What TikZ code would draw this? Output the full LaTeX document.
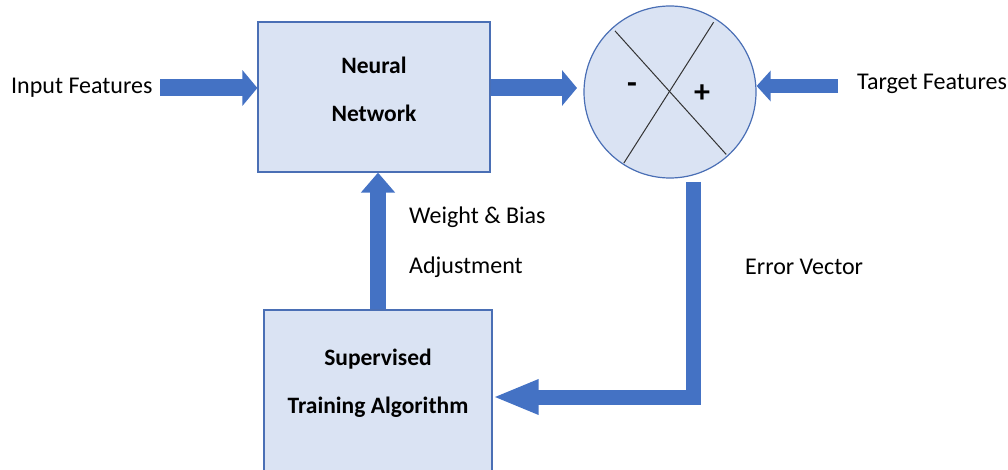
\documentclass[tikz,border=0pt]{standalone}
\usepackage{fontspec}
\setmainfont{Carlito}
\usetikzlibrary{arrows.meta,calc}
\definecolor{arrowblue}{HTML}{4472C4}
\definecolor{boxfill}{HTML}{DAE3F3}
\definecolor{boxline}{HTML}{4A6FB5}
\begin{document}
\begin{tikzpicture}[x=1pt,y=-1pt,
  blk/.style={draw=boxline, line width=1.2pt, fill=boxfill, rectangle, inner sep=0pt},
  lbl/.style={font=\fontsize{24}{28}\selectfont, inner sep=0pt, anchor=west},
  ttl/.style={font=\fontsize{23.5}{48}\selectfont\bfseries, align=center, inner sep=0pt},
  sign/.style={font=\fontsize{32}{32}\selectfont\bfseries, inner sep=0pt},
  xline/.style={line width=1pt, black!80},
  flow/.style={draw=arrowblue, line width=17pt, line join=miter, -{Triangle[length=15pt,width=35pt]}},
]
\useasboundingbox (0,0) rectangle (1008,470);
% blocks
\node[blk, minimum width=232pt, minimum height=150pt] (nn) at (374,97) {};
\node[ttl] (nnt) at (374,89) {Neural\\Network};
\node[blk, minimum width=228pt, minimum height=162pt] (sta) at (378,391) {};
\node[ttl] (stat) at (378,383) {Supervised\\Training Algorithm};
\node[circle, draw=boxline, line width=1.2pt, fill=boxfill, minimum size=172pt, inner sep=0pt] (cmp) at (670,92) {};
\draw[xline] ($(cmp.center)!0.95!(cmp.132)$) -- ($(cmp.center)!0.97!(cmp.312)$);
\draw[xline] ($(cmp.center)!0.95!(cmp.58)$) -- ($(cmp.center)!0.98!(cmp.237)$);
\node[sign] (minus) at (632,88) {-};
\node[sign] (plus) at (702,94) {+};
% labels
\node[lbl] (inl) at (11,88) {Input Features};
\node[lbl] (tgl) at (857,84) {Target Features};
\node[lbl] (wb) at (409,217) {Weight \& Bias};
\node[lbl] (adj) at (409,267) {Adjustment};
\node[lbl] (ev) at (745,267) {Error Vector};
% connectors
\coordinate (inS) at (160,88);
\draw[flow] (inS) -- (inS -| nn.west);
\coordinate (cmpIn) at (577,88);
\draw[flow] (nn.east |- cmpIn) -- (cmpIn);
\coordinate (tgS) at (838,86);
\draw[flow, line width=14pt, -{Triangle[length=14pt,width=30pt]}] (tgS) -- (tgS -| cmp.east);
\draw[flow, line width=16pt, -{Triangle[length=20pt,width=33pt]}] (sta.north) -- (sta.north |- nn.south);
\coordinate (eS) at (693,182);
\draw[flow, line width=15pt, -{Triangle[length=46pt,width=32pt]}] (eS) |- ($(sta.east)+(0,6)$);
\end{tikzpicture}
\end{document}
